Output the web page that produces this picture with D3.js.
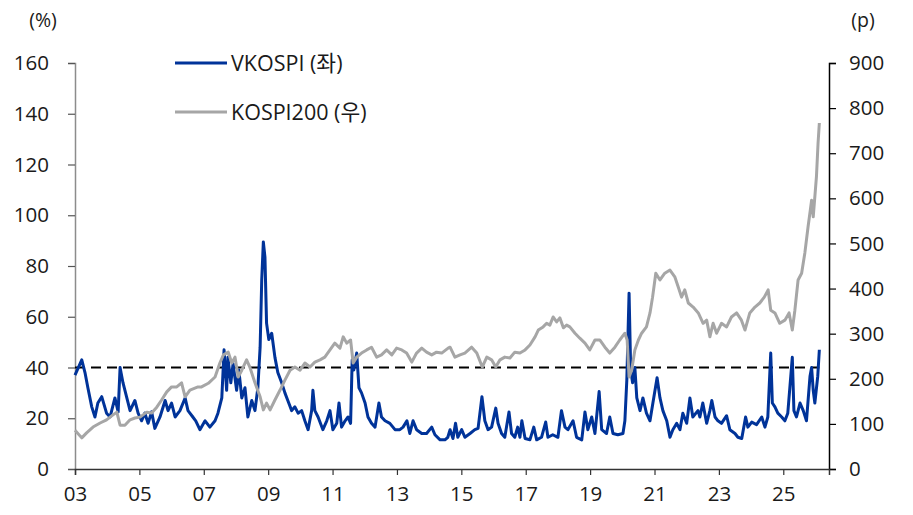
<!DOCTYPE html>
<html><head><meta charset="utf-8">
<script src="https://cdn.jsdelivr.net/npm/d3@7"></script>
<style>
html,body{margin:0;padding:0;background:#fff;}
text{font-family:"Open Sans","Noto Sans CJK KR",sans-serif;fill:#1a1a1a;}
</style></head>
<body>
<svg id="chart" width="913" height="515"></svg>
<script>
// ---- data (decimal year, value) ----
const vkospiDates = [2003.00,2003.21,2003.31,2003.40,2003.52,2003.62,2003.71,2003.83,2003.98,2004.09,2004.24,2004.34,2004.40,2004.49,2004.61,2004.71,2004.86,2004.96,2005.07,2005.17,2005.27,2005.38,2005.48,2005.64,2005.80,2005.89,2006.00,2006.11,2006.26,2006.42,2006.51,2006.66,2006.75,2006.88,2007.04,2007.19,2007.35,2007.44,2007.56,2007.63,2007.71,2007.75,2007.84,2007.91,2008.02,2008.09,2008.18,2008.28,2008.37,2008.49,2008.59,2008.68,2008.75,2008.80,2008.85,2008.90,2008.95,2009.02,2009.11,2009.21,2009.30,2009.42,2009.52,2009.61,2009.73,2009.83,2009.93,2010.04,2010.14,2010.24,2010.35,2010.39,2010.45,2010.55,2010.70,2010.82,2010.92,2011.01,2011.13,2011.20,2011.28,2011.39,2011.48,2011.56,2011.61,2011.66,2011.75,2011.82,2011.90,2012.01,2012.10,2012.21,2012.32,2012.44,2012.52,2012.63,2012.78,2012.94,2013.09,2013.19,2013.31,2013.40,2013.50,2013.61,2013.77,2013.92,2014.08,2014.18,2014.34,2014.49,2014.58,2014.65,2014.74,2014.82,2014.89,2015.01,2015.11,2015.27,2015.42,2015.52,2015.64,2015.73,2015.83,2015.94,2016.07,2016.14,2016.25,2016.35,2016.48,2016.56,2016.66,2016.75,2016.82,2016.88,2016.98,2017.13,2017.25,2017.34,2017.49,2017.62,2017.69,2017.84,2018.00,2018.11,2018.22,2018.31,2018.47,2018.58,2018.74,2018.84,2018.93,2019.05,2019.15,2019.28,2019.36,2019.51,2019.61,2019.71,2019.86,2020.02,2020.08,2020.14,2020.21,2020.26,2020.32,2020.39,2020.45,2020.55,2020.64,2020.75,2020.86,2020.95,2021.08,2021.17,2021.26,2021.38,2021.48,2021.57,2021.69,2021.79,2021.88,2022.00,2022.10,2022.19,2022.35,2022.41,2022.50,2022.62,2022.72,2022.78,2022.88,2022.97,2023.08,2023.24,2023.34,2023.50,2023.59,2023.71,2023.83,2023.90,2024.02,2024.17,2024.33,2024.43,2024.52,2024.61,2024.66,2024.74,2024.83,2024.95,2025.05,2025.14,2025.28,2025.33,2025.41,2025.52,2025.62,2025.72,2025.83,2025.88,2025.93,2025.98,2026.07,2026.12];
const vkospiValues = [37,43,38,32,24.5,20.5,26,28.5,22,20.5,28,22.5,40,34,28,23,27,22,19,22,18,22.5,16,20.5,27,23,26,20.5,23,28,23,20.5,19,15.5,19,16.5,19,22,28,47,31,44,34,41.5,31,39,28,32,20.5,27,23,32,48,74.5,89.5,83.5,57.5,51,53.5,44,38,34,30,27,23,24.5,22,23,19,15.5,23,31,23,20.5,15.5,19,23,15.5,18,26,16.5,19,20.5,18,43,39,45.7,32,30,26,20.5,18,16.5,26,20.5,19,18,15.5,15.5,16.5,19,14,19,15.5,14,14,16.5,13.5,11.5,11.5,12.5,15.5,12,18,12.5,15.5,12.5,14,15.5,16,28.5,19,15.5,16.5,24,18,14,12.5,22.5,14,12.5,16.5,12.5,19,12,11.5,16.5,11.5,12.5,18.5,12.5,13.5,12.5,23,16.5,15.5,19,12.5,11.5,22.5,15.5,20.5,14,30.5,15.5,14,20.5,14,13.5,14,19,35,69.3,39,34,40,28,23,28,22,19,26,36,28,23,19,12.5,15.5,18,15.5,22,18,28,20.5,23,20.5,26,18,23,27,20.5,19,18,21,15.5,14,12.5,12,20.5,16.5,18.5,17.5,20.5,16.5,20.5,45.7,26,24.5,22,20.5,19,22,44,23,20.5,26,23,19,36.5,40,31,26,36.5,47];

const kospiDates = [2003.00,2003.21,2003.36,2003.56,2003.78,2003.98,2004.18,2004.30,2004.40,2004.55,2004.71,2004.86,2005.02,2005.23,2005.38,2005.54,2005.69,2005.85,2006.00,2006.16,2006.31,2006.42,2006.57,2006.82,2006.93,2007.14,2007.35,2007.50,2007.61,2007.76,2007.87,2007.97,2008.07,2008.18,2008.33,2008.43,2008.59,2008.75,2008.85,2008.95,2009.06,2009.21,2009.37,2009.52,2009.68,2009.83,2009.99,2010.14,2010.30,2010.45,2010.61,2010.76,2010.92,2011.07,2011.23,2011.33,2011.44,2011.56,2011.64,2011.75,2011.90,2012.06,2012.21,2012.37,2012.52,2012.68,2012.84,2012.99,2013.15,2013.30,2013.46,2013.61,2013.77,2013.92,2014.08,2014.23,2014.39,2014.59,2014.65,2014.80,2014.96,2015.11,2015.32,2015.48,2015.65,2015.79,2015.94,2016.07,2016.20,2016.35,2016.51,2016.66,2016.82,2016.98,2017.13,2017.29,2017.39,2017.54,2017.65,2017.75,2017.85,2017.96,2018.06,2018.17,2018.27,2018.37,2018.53,2018.68,2018.84,2018.99,2019.15,2019.30,2019.46,2019.61,2019.77,2019.92,2020.08,2020.15,2020.21,2020.29,2020.39,2020.50,2020.60,2020.75,2020.86,2020.94,2021.04,2021.17,2021.32,2021.48,2021.63,2021.74,2021.84,2021.94,2022.05,2022.20,2022.36,2022.51,2022.62,2022.72,2022.82,2022.93,2023.08,2023.24,2023.39,2023.55,2023.70,2023.81,2023.96,2024.12,2024.27,2024.41,2024.53,2024.61,2024.74,2024.89,2025.05,2025.18,2025.28,2025.36,2025.46,2025.57,2025.67,2025.77,2025.84,2025.88,2025.93,2025.98,2026.03,2026.08,2026.12];
const kospiValues = [86,69,80,93,102,109,120,126,97,97,109,113,115,126,124,137,153,171,182,182,191,160,175,182,182,190,204,235,253,259,235,248,204,219,242,226,191,160,131,146,131,153,175,197,219,226,219,235,226,237,242,248,264,279,268,293,279,286,235,248,257,264,270,248,253,264,253,268,264,257,237,257,268,259,253,259,257,268,270,248,253,257,270,257,226,248,242,226,242,248,246,259,257,264,275,293,308,315,323,319,337,326,335,313,319,315,301,290,279,264,286,286,270,257,270,286,301,286,204,219,264,286,301,315,346,381,434,419,434,441,426,403,381,397,368,359,346,323,330,293,323,301,323,315,337,346,330,308,346,359,368,381,397,352,346,323,330,346,308,352,419,434,479,537,574,596,559,603,648,722,767];

const xTickYears = [2003,2005,2007,2009,2011,2013,2015,2017,2019,2021,2023,2025];
const xTickLabels = ["03","05","07","09","11","13","15","17","19","21","23","25"];
const leftTicks = [0,20,40,60,80,100,120,140,160];
const rightTicks = [0,100,200,300,400,500,600,700,800,900];
const thresholdDates = [2003.0, 2026.12];
const thresholdValue = 40;
const seriesNames = ["VKOSPI (좌)","KOSPI200 (우)"];
const leftUnit = "(%)", rightUnit = "(p)";

// ---- layout ----
const svg = d3.select("#chart");
const L = 75, R = 829, T = 63, B = 469;
const x = d3.scaleLinear().domain([2003, 2026.42]).range([L, R]);
const yL = d3.scaleLinear().domain([0,160]).range([B, T]);
const yR = d3.scaleLinear().domain([0,900]).range([B, T]);

const blue = "#003399", gray = "#a6a6a6";
const FONT = '"Open Sans","Noto Sans CJK KR",sans-serif';

// axes
const gL = svg.append("g").attr("transform",`translate(${L},0)`)
  .call(d3.axisLeft(yL).tickValues(leftTicks).tickSize(7).tickPadding(19));
gL.select(".domain").attr("stroke","#8c8c8c").attr("stroke-width",1.5);
gL.selectAll(".tick line").attr("stroke","#555").attr("stroke-width",1.2);

const gR = svg.append("g").attr("transform",`translate(${R},0)`)
  .call(d3.axisRight(yR).tickValues(rightTicks).tickSize(7).tickPadding(13));
gR.select(".domain").attr("stroke","#000").attr("stroke-width",1.5);
gR.selectAll(".tick line").attr("stroke","#000").attr("stroke-width",1.2);

const gX = svg.append("g").attr("transform",`translate(0,${B})`)
  .call(d3.axisBottom(x).tickValues(xTickYears).tickFormat((d,i)=>xTickLabels[i]).tickSize(6).tickPadding(10));
gX.select(".domain").attr("stroke","#333").attr("stroke-width",1.5);
gX.selectAll(".tick line").attr("stroke","#333").attr("stroke-width",1.2);

svg.selectAll(".tick text").style("font-size","20.5px").attr("fill","#1a1a1a")
   .style("font-family",FONT);
gX.selectAll(".tick text").attr("dy","0.8em");

// units
svg.append("text").attr("x",43).attr("y",27).attr("text-anchor","middle").style("font-size","19.5px").text(leftUnit);
svg.append("text").attr("x",863).attr("y",27).attr("text-anchor","middle").style("font-size","19.5px").text(rightUnit);

// threshold dashed line
svg.append("line")
  .attr("x1",x(thresholdDates[0])).attr("x2",x(thresholdDates[1]))
  .attr("y1",yL(thresholdValue)).attr("y2",yL(thresholdValue))
  .attr("stroke","#000").attr("stroke-width",2.2).attr("stroke-dasharray","10,6");

// lines
const vData = vkospiDates.map((d,i)=>[d,vkospiValues[i]]);
const kData = kospiDates.map((d,i)=>[d,kospiValues[i]]);
svg.append("path").datum(vData)
  .attr("d", d3.line().x(d=>x(d[0])).y(d=>yL(d[1])))
  .attr("fill","none").attr("stroke",blue).attr("stroke-width",3).attr("stroke-linejoin","round");
svg.append("path").datum(kData)
  .attr("d", d3.line().x(d=>x(d[0])).y(d=>yR(d[1])))
  .attr("fill","none").attr("stroke",gray).attr("stroke-width",3).attr("stroke-linejoin","round");

// legend
const leg = [{name:seriesNames[0],c:blue,y:63},{name:seriesNames[1],c:gray,y:112}];
leg.forEach(l=>{
  svg.append("line").attr("x1",175).attr("x2",227).attr("y1",l.y).attr("y2",l.y)
    .attr("stroke",l.c).attr("stroke-width",3);
  svg.append("text").attr("x",231).attr("y",l.y).attr("dy","0.35em").style("font-size","21.5px").text(l.name);
});
</script>
</body></html>
